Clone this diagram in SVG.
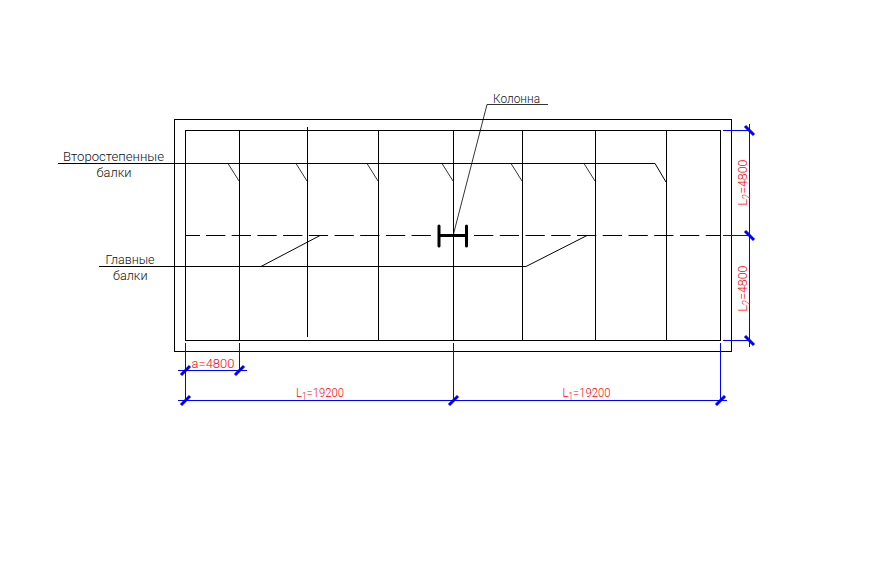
<svg xmlns="http://www.w3.org/2000/svg" width="885" height="565" viewBox="0 0 885 565">
<style>
.k{stroke:#000;stroke-width:1;fill:none}
.t{stroke:#000;stroke-width:.8;fill:none}
.b{stroke:#00f;stroke-width:1;fill:none}
.x{stroke:#00f;stroke-width:3;fill:none}
text{font-family:"Roboto","Liberation Sans",Arial,sans-serif;font-size:13.5px;font-weight:300}
.l{fill:#111}
.r{fill:#f00}
</style>
<rect width="885" height="565" fill="#fff"/>
<g id="connectors">
<g id="plan">
<rect class="k" x="174.5" y="119.5" width="557" height="232"/>
<rect class="k" x="185.500" y="130.500" width="535" height="210"/>
<path class="k" d="M239.500 130V340M307.500 127V337M378.500 130V340M453.500 130V340M522.500 130V340M595.500 130V340M666.500 130V340"/>
<path class="k" d="M58 163.500H655L666 182"/>
<path class="t" d="M228 163.500L239 181M296 163.500L307 181M367 163.500L378 181M442 163.500L453 181M511 163.500L522 181M584 163.500L595 181"/>
<path class="k" d="M99 266.500H261L320 235.500M261 266.500H526L587 235.500"/>
<path class="k" d="M186 235.500H200"/>
<path class="k" d="M206 235.500H432" stroke-dasharray="19.300 6.400"/>
<path class="k" d="M474 235.500H720.500" stroke-dasharray="19.300 6.450"/>
<path class="t" d="M548 104.500H487L453.500 234"/>
</g>
<g id="dims">
<path class="b" d="M185.500 343V400.500M239.500 343V370.500M453.500 343V400.500M720.500 343V400.500M178 370.500H247M178 400.500H727M723 130.500H749.500M723 235.500H749.500M723 340.500H749.500M749.500 124V347"/>
<path class="x" d="M181 375L190 366M235 375L244 366M181 405L190 396M449 405L458 396M716 405L725 396M745 126L754 135M745 231L754 240M745 336L754 345"/>
</g>
</g>
<g id="column"><path d="M439 226V246M466.500 226V246" stroke="#000" stroke-width="3" stroke-linecap="round" fill="none"/><path d="M439 235.500H466.500" stroke="#000" stroke-width="3" fill="none"/></g>
<g id="labels">
<text class="l" x="63" y="161" textLength="101" lengthAdjust="spacingAndGlyphs">Второстепенные</text>
<text class="l" x="96.500" y="177" textLength="35" lengthAdjust="spacingAndGlyphs">балки</text>
<text class="l" x="105.500" y="263.500" textLength="49" lengthAdjust="spacingAndGlyphs">Главные</text>
<text class="l" x="113" y="280" textLength="34.500" lengthAdjust="spacingAndGlyphs">балки</text>
<text class="l" x="493" y="102.500" textLength="47" lengthAdjust="spacingAndGlyphs">Колонна</text>
<text class="r" x="191.500" y="367.500" textLength="43" lengthAdjust="spacingAndGlyphs">a=4800</text>
<text class="r" x="296" y="397" textLength="48" lengthAdjust="spacingAndGlyphs">L<tspan font-size="10" dy="3">1</tspan><tspan dy="-3">=19200</tspan></text>
<text class="r" x="562.500" y="397" textLength="48" lengthAdjust="spacingAndGlyphs">L<tspan font-size="10" dy="3">1</tspan><tspan dy="-3">=19200</tspan></text>
<text class="r" transform="translate(747 205.500) rotate(-90)" textLength="46" lengthAdjust="spacingAndGlyphs">L<tspan font-size="10" dy="3">2</tspan><tspan dy="-3">=4800</tspan></text>
<text class="r" transform="translate(747 311.500) rotate(-90)" textLength="46" lengthAdjust="spacingAndGlyphs">L<tspan font-size="10" dy="3">2</tspan><tspan dy="-3">=4800</tspan></text>
</g>
</svg>
